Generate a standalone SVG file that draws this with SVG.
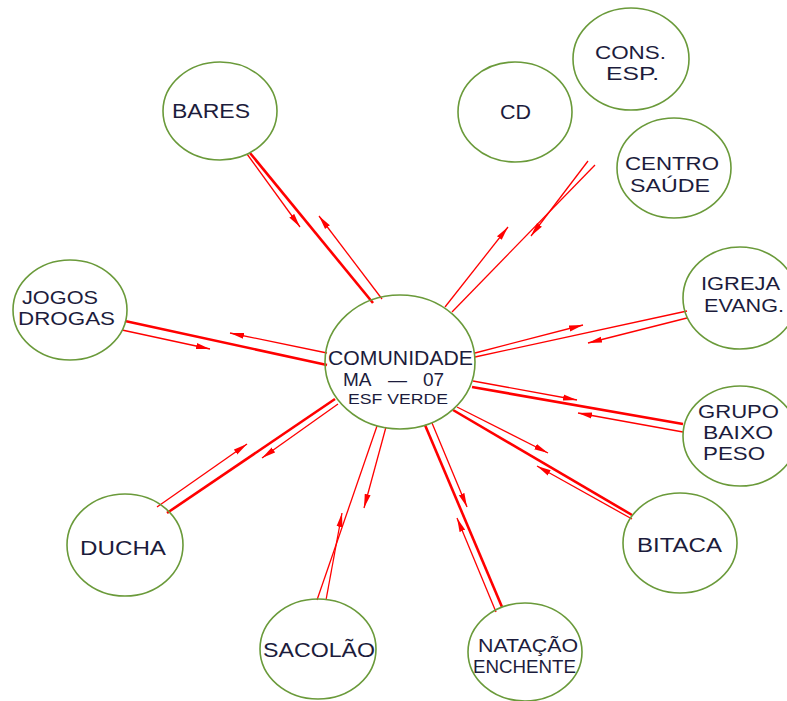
<svg xmlns="http://www.w3.org/2000/svg" width="787" height="701" viewBox="0 0 787 701">
<style>
.node ellipse{fill:none;stroke:#6a9a3a;stroke-width:1.6}
.lbl{font-family:"Liberation Sans",Arial,sans-serif;font-size:20px;fill:#1c1c3c}
.ml{font-size:19px}
.sm{font-size:15px}
.thick{stroke:#ff0000;stroke-width:2.6;fill:none}
.thin{stroke:#ff0000;stroke-width:1.3;fill:none}
.arr{stroke:#ff0000;stroke-width:1.3;fill:none;marker-end:url(#ah)}
</style>
<defs>
<marker id="ah" markerUnits="userSpaceOnUse" markerWidth="15" markerHeight="8" refX="14" refY="4" orient="auto"><path d="M0,1 L14,4 L0,7 z" fill="#ff0000"/></marker>
</defs>
<rect width="787" height="701" fill="#ffffff"/>
<g id="connectors">
<line class="thick" x1="250" y1="153" x2="373" y2="303"/>
<line class="arr" x1="247" y1="154" x2="300" y2="227"/>
<line class="arr" x1="382" y1="299" x2="319" y2="216"/>
<line class="thick" x1="125" y1="321" x2="327" y2="365"/>
<line class="arr" x1="122" y1="330" x2="210" y2="349"/>
<line class="arr" x1="327" y1="353" x2="230" y2="333"/>
<line class="thin" x1="595" y1="165" x2="452" y2="312"/>
<line class="arr" x1="588" y1="161" x2="531" y2="236"/>
<line class="arr" x1="445" y1="307" x2="508" y2="227"/>
<line class="thin" x1="475" y1="357" x2="687" y2="311"/>
<line class="arr" x1="475" y1="353" x2="583" y2="325"/>
<line class="arr" x1="687" y1="318" x2="588" y2="343"/>
<line class="thick" x1="472" y1="387" x2="683" y2="424"/>
<line class="arr" x1="473" y1="381" x2="577" y2="400"/>
<line class="arr" x1="683" y1="432" x2="578" y2="413"/>
<line class="thick" x1="453" y1="410" x2="632" y2="515"/>
<line class="arr" x1="457" y1="407" x2="548" y2="453"/>
<line class="arr" x1="632" y1="519" x2="537" y2="466"/>
<line class="thick" x1="425" y1="425" x2="502" y2="607"/>
<line class="arr" x1="432" y1="423" x2="467" y2="507"/>
<line class="arr" x1="496" y1="612" x2="457" y2="518"/>
<line class="thin" x1="377" y1="426" x2="317" y2="600"/>
<line class="arr" x1="386" y1="427" x2="364" y2="508"/>
<line class="arr" x1="326" y1="600" x2="342" y2="513"/>
<line class="thick" x1="335" y1="399" x2="167" y2="513"/>
<line class="arr" x1="157" y1="507" x2="247" y2="444"/>
<line class="arr" x1="338" y1="404" x2="262" y2="458"/>
</g>
<g id="comunidade" class="node">
<ellipse cx="400" cy="362" rx="75" ry="67"/>
<text class="lbl" x="328" y="365" textLength="145" lengthAdjust="spacingAndGlyphs">COMUNIDADE</text>
<text class="lbl ml" y="386"><tspan x="343">MA</tspan><tspan x="388">—</tspan><tspan x="423">07</tspan></text>
<text class="lbl sm" x="348" y="404" textLength="100" lengthAdjust="spacingAndGlyphs">ESF VERDE</text>
</g>
<g id="bares" class="node">
<ellipse cx="220" cy="111" rx="57" ry="49"/>
<text class="lbl" x="172" y="118" textLength="78" lengthAdjust="spacingAndGlyphs">BARES</text>
</g>
<g id="cd" class="node">
<ellipse cx="515" cy="112" rx="57" ry="50"/>
<text class="lbl" x="500" y="119" textLength="31" lengthAdjust="spacingAndGlyphs">CD</text>
</g>
<g id="cons" class="node">
<ellipse cx="631" cy="59" rx="58" ry="51"/>
<text class="lbl ml" x="595" y="59" textLength="71" lengthAdjust="spacingAndGlyphs">CONS.</text>
<text class="lbl ml" x="606" y="80" textLength="53" lengthAdjust="spacingAndGlyphs">ESP.</text>
</g>
<g id="centro" class="node">
<ellipse cx="674" cy="168" rx="57" ry="50"/>
<text class="lbl ml" x="625" y="170" textLength="94" lengthAdjust="spacingAndGlyphs">CENTRO</text>
<text class="lbl ml" x="630" y="192" textLength="80" lengthAdjust="spacingAndGlyphs">SAÚDE</text>
</g>
<g id="jogos" class="node">
<ellipse cx="70" cy="310" rx="57" ry="50"/>
<text class="lbl ml" x="22" y="304" textLength="76" lengthAdjust="spacingAndGlyphs">JOGOS</text>
<text class="lbl ml" x="18" y="325" textLength="97" lengthAdjust="spacingAndGlyphs">DROGAS</text>
</g>
<g id="igreja" class="node">
<ellipse cx="740" cy="298" rx="57" ry="51"/>
<text class="lbl ml" x="701" y="290" textLength="79" lengthAdjust="spacingAndGlyphs">IGREJA</text>
<text class="lbl ml" x="704" y="312" textLength="80" lengthAdjust="spacingAndGlyphs">EVANG.</text>
</g>
<g id="grupo" class="node">
<ellipse cx="740" cy="436" rx="57" ry="50"/>
<text class="lbl ml" x="698" y="418" textLength="81" lengthAdjust="spacingAndGlyphs">GRUPO</text>
<text class="lbl ml" x="703" y="439" textLength="70" lengthAdjust="spacingAndGlyphs">BAIXO</text>
<text class="lbl ml" x="703" y="460" textLength="62" lengthAdjust="spacingAndGlyphs">PESO</text>
</g>
<g id="bitaca" class="node">
<ellipse cx="680" cy="543" rx="57" ry="50"/>
<text class="lbl" x="637" y="552" textLength="85" lengthAdjust="spacingAndGlyphs">BITACA</text>
</g>
<g id="natacao" class="node">
<ellipse cx="525" cy="652" rx="57" ry="49"/>
<text class="lbl ml" x="478" y="652" textLength="100" lengthAdjust="spacingAndGlyphs">NATAÇÃO</text>
<text class="lbl ml" x="473" y="673" textLength="103" lengthAdjust="spacingAndGlyphs">ENCHENTE</text>
</g>
<g id="sacolao" class="node">
<ellipse cx="318" cy="649" rx="58" ry="50"/>
<text class="lbl" x="263" y="657" textLength="112" lengthAdjust="spacingAndGlyphs">SACOLÃO</text>
</g>
<g id="ducha" class="node">
<ellipse cx="125" cy="545" rx="58" ry="51"/>
<text class="lbl" x="80" y="555" textLength="86" lengthAdjust="spacingAndGlyphs">DUCHA</text>
</g>
</svg>
